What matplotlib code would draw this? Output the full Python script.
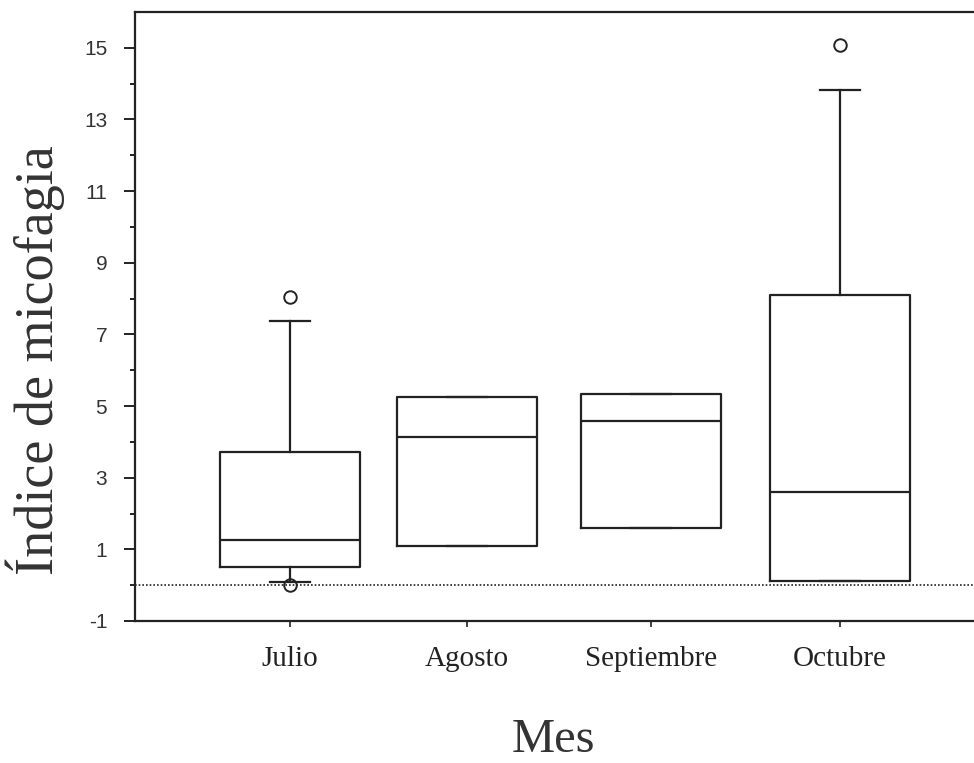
import matplotlib
matplotlib.use("Agg")
import matplotlib.pyplot as plt

plt.rcParams["axes.unicode_minus"] = False

# Índice de micofagia por mes
meses = ["Julio", "Agosto", "Septiembre", "Octubre"]
posiciones = [1.0, 1.966, 2.97, 4.0]
q1 = [0.51, 1.09, 1.60, 0.12]
mediana = [1.26, 4.14, 4.59, 2.60]
q3 = [3.72, 5.26, 5.34, 8.11]
bigote_inf = [0.09, 1.09, 1.60, 0.12]
bigote_sup = [7.38, 5.26, 5.34, 13.83]
atipicos = [[8.05, 0.0], [], [], [15.09]]

color = "#222222"
serif = "Liberation Serif"

stats = []
for i, m in enumerate(meses):
    stats.append(dict(label=m, q1=q1[i], med=mediana[i], q3=q3[i],
                      whislo=bigote_inf[i], whishi=bigote_sup[i],
                      fliers=atipicos[i]))

fig = plt.figure(figsize=(9.74, 7.63), dpi=100)
ax = fig.add_axes([135 / 974, 1 - 621 / 763, 1 - 135 / 974, (621 - 12) / 763])

# línea de referencia en cero
ax.axhline(0, color=color, lw=1.2, ls=(0, (1, 1.2)), zorder=1)

caja = dict(color=color, lw=1.6)
ax.bxp(stats, positions=posiciones, widths=0.764, capwidths=0.22,
       boxprops=caja, medianprops=caja, whiskerprops=caja, capprops=caja,
       flierprops=dict(marker="o", markersize=9, markerfacecolor="none",
                       markeredgecolor=color, markeredgewidth=1.4),
       manage_ticks=False, zorder=2)

ax.set_xlim(0.154, 4.73)
ax.set_ylim(-1, 16)

ax.set_xticks(posiciones)
ax.set_xticklabels(meses, fontfamily=serif, fontsize=21, color=color)
ax.tick_params(axis="x", length=4, width=1.2, pad=14, color=color)

ax.set_yticks(range(-1, 16, 2))
ax.set_yticks(range(0, 16, 2), minor=True)
ax.tick_params(axis="y", which="major", length=8, width=1.4, pad=12,
               labelsize=15, labelcolor="#333333", color=color)
ax.tick_params(axis="y", which="minor", length=3.6, width=1.4, color=color)
for lab in ax.get_yticklabels():
    lab.set_fontfamily("Liberation Sans")

for s in ["left", "bottom", "top"]:
    ax.spines[s].set_color(color)
    ax.spines[s].set_linewidth(1.6)
ax.spines["right"].set_visible(False)

fig.text(35 / 974, 1 - 360 / 763, "Índice de micofagia", rotation=90,
         ha="center", va="center", fontfamily=serif, fontsize=39, color="#333333")
fig.text(553 / 974, 1 - 740 / 763, "Mes", ha="center", va="center",
         fontfamily=serif, fontsize=35, color="#333333")

fig.savefig("out.png", dpi=100)
